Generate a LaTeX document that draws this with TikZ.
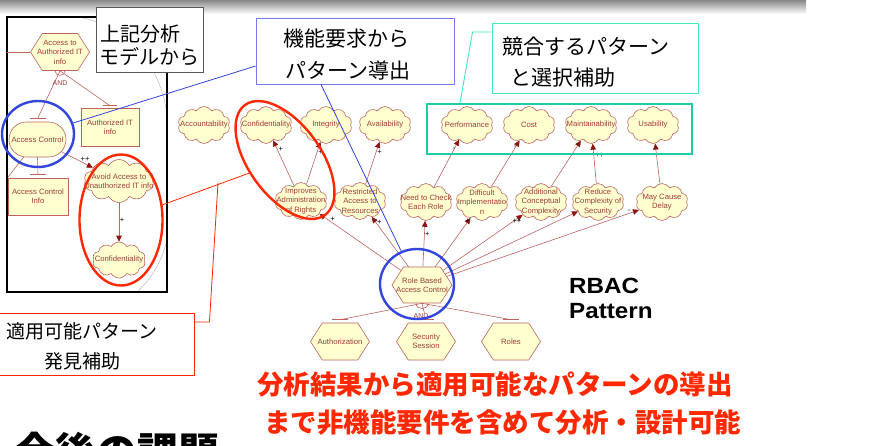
\documentclass[tikz,border=0pt]{standalone}
\usepackage{graphicx}
\usepackage{fontspec}
\setmainfont{Liberation Sans}
\newfontfamily\jp{Noto Sans CJK JP}
\usetikzlibrary{shapes.symbols,shapes.misc,shapes.geometric,arrows.meta}
\definecolor{cream}{RGB}{255,255,208}
\definecolor{ln}{RGB}{190,100,95}
\definecolor{tx}{RGB}{160,60,55}
\definecolor{ah}{RGB}{140,20,15}
\definecolor{hlblue}{RGB}{50,70,220}
\definecolor{cbblue}{RGB}{120,120,240}
\definecolor{hlred}{RGB}{255,40,0}
\definecolor{tealc}{RGB}{30,205,165}
\definecolor{tealL}{RGB}{70,230,190}
\begin{document}
\begin{tikzpicture}[x=1pt,y=-1pt,
  cl/.style={cloud, cloud puffs=10, cloud puff arc=120, aspect=1.4, cloud ignores aspect, draw=ln, fill=cream, line width=0.6pt, inner sep=0pt, minimum width=52pt, minimum height=37pt},
  ct/.style={text=tx, font=\fontsize{7.7}{9.4}\selectfont, align=center, inner sep=0pt},
  hexa/.style={signal, signal to=east and west, signal pointer angle=115, draw=ln, fill=cream, line width=0.6pt, inner sep=0pt, minimum width=59pt, minimum height=37pt},
  gbox/.style={rectangle, draw=ln, fill=cream, line width=0.6pt, inner sep=0pt},
  stad/.style={rounded rectangle, draw=ln, fill=cream, line width=0.6pt, inner sep=0pt},
  lk/.style={draw=ln, line width=0.6pt},
  arr/.style={lk, -{Triangle[length=6pt,width=5.5pt,color=ah]}},
  lbl/.style={font=\fontsize{7.5}{7.5}\selectfont, inner sep=0.5pt, text=black},
  hlb/.style={ellipse, draw=hlblue, line width=2.4pt, inner sep=0pt},
  hlr/.style={ellipse, draw=hlred, line width=2.4pt, inner sep=0pt},
  call/.style={rectangle, fill=white, inner sep=0pt},
  jt/.style={font=\jp\fontsize{21}{21}\selectfont, inner sep=0pt, anchor=west},
]
\useasboundingbox (0,0) rectangle (869,445);
\clip (0,0) rectangle (869,445);
\fill[white] (0,0) rectangle (869,445);
\shade[top color=black!50, bottom color=white] (0,-1) rectangle (806,14);

% faint arc behind the left frame
\draw[gray!45, line width=0.6pt] (83,18) .. controls (130,28) and (158,65) .. (166,108);
\draw[gray!45, line width=0.6pt] (168,236) .. controls (162,262) and (152,278) .. (137,292);
% left frame
\draw[line width=2pt] (7,17) rectangle (167,292);

% ---- left model
\node[hexa, label={[ct]center:Access to\\Authorized IT\\info}] (hexA) at (60,52) {};
\coordinate (hxl) at (7,52);
\draw[lk] (hxl) -- (hexA.west);
\node[stad, minimum width=57pt, minimum height=35pt, label={[ct]center:Access Control}] (acctrl) at (37.5,139.5) {};
\node[gbox, minimum width=58pt, minimum height=38pt, label={[ct]center:Authorized IT\\info}] (authit) at (110,127) {};
\node[gbox, minimum width=60pt, minimum height=37pt, label={[ct]center:Access Control\\Info}] (acinfo) at (38,196.5) {};
\node[cl, minimum width=70pt, minimum height=43pt, label={[ct]center:Avoid Access to\\Unauthorized IT info}] (avoid) at (119,181) {};
\node[cl, minimum width=53pt, minimum height=36pt, label={[ct]center:Confidentiality}] (conf0) at (119,260) {};

\draw[lk] ([xshift=-5pt]hexA.south) .. controls +(0,6) and +(0,6) .. ([xshift=5pt]hexA.south);
\node[ct, font=\fontsize{7}{7}\selectfont] (and1) at (60,83) {AND};
\draw[lk] (hexA.south) -- ([yshift=3pt]acctrl.north);
\draw[lk] ([xshift=-8pt,yshift=3pt]acctrl.north) -- ([xshift=8pt,yshift=3pt]acctrl.north);
\draw[lk] (hexA.south) -- ([yshift=2pt]authit.north);
\draw[lk] ([xshift=-7pt,yshift=2pt]authit.north) -- ([xshift=7pt,yshift=2pt]authit.north);
\draw[lk] (acctrl.south) -- ([yshift=3pt]acinfo.north);
\draw[lk] ([xshift=-8pt,yshift=3pt]acinfo.north) -- ([xshift=8pt,yshift=3pt]acinfo.north);
\coordinate (acx) at (8,177);
\draw[lk] (acctrl) -- (acx);
\draw[arr] (acctrl) -- (avoid) node[lbl, pos=0.75, above=1pt] {++};
\draw[arr] (avoid) -- (conf0) node[lbl, pos=0.45, right=0pt] {+};

% ---- softgoals
\node[cl, label={[ct]center:Accountability}] (acc) at (204,125) {};
\node[cl, label={[ct]center:Confidentiality}] (conf) at (266,125) {};
\node[cl, label={[ct]center:Integrity}] (integ) at (326,125) {};
\node[cl, label={[ct]center:Availability}] (avail) at (385,125) {};
\node[cl, label={[ct]center:Performance}] (perf) at (467,125) {};
\node[cl, label={[ct]center:Cost}] (cost) at (529,125) {};
\node[cl, label={[ct]center:Maintainability}] (maint) at (591,125) {};
\node[cl, label={[ct]center:Usability}] (usab) at (653,125) {};

\node[cl, label={[ct]center:Improves\\Administration\\of Rights}] (impr) at (301,201) {};
\node[cl, label={[ct]center:Restricted\\Access to\\Resources}] (restr) at (360,201) {};
\node[cl, label={[ct]center:Need to Check\\Each Role}] (need) at (426,202) {};
\node[cl, label={[ct]center:Difficult\\Implementatio\\n}] (diff) at (482,202) {};
\node[cl, label={[ct]center:Additional\\Conceptual\\Complexity}] (addl) at (541,202) {};
\node[cl, label={[ct]center:Reduce\\Complexity of\\Security}] (reduce) at (598,202) {};
\node[cl, label={[ct]center:May Cause\\Delay}] (delay) at (662,202) {};

% ---- RBAC
\node[hexa, minimum width=60pt, minimum height=36pt, label={[ct]center:Role Based\\Access Control}] (rbac) at (422,285) {};
\node[hexa, label={[ct]center:Authorization}] (authz) at (340,341.5) {};
\node[hexa, label={[ct]center:Security\\Session}] (sess) at (426,341.5) {};
\node[hexa, label={[ct]center:Roles}] (roles) at (511,341.5) {};

\draw[lk] ([xshift=-6pt]rbac.south) .. controls +(0,7) and +(0,7) .. ([xshift=6pt]rbac.south);
\draw[lk] (rbac.south) -- ([yshift=3pt]authz.north);
\draw[lk] ([xshift=-8pt,yshift=3pt]authz.north) -- ([xshift=8pt,yshift=3pt]authz.north);
\draw[lk] (rbac.south) -- ([yshift=3pt]sess.north);
\draw[lk] ([xshift=-8pt,yshift=3pt]sess.north) -- ([xshift=8pt,yshift=3pt]sess.north);
\draw[lk] (rbac.south) -- ([yshift=3pt]roles.north);
\draw[lk] ([xshift=-8pt,yshift=3pt]roles.north) -- ([xshift=8pt,yshift=3pt]roles.north);
\node[ct, font=\fontsize{7}{7}\selectfont, fill=white, inner sep=0.5pt] (and2) at (421,316) {AND};

\draw[arr] (rbac) -- (impr) node[lbl, pos=0.9, right=2pt] {+};
\draw[arr] (rbac) -- (restr) node[lbl, pos=0.9, right=1pt] {+};
\draw[arr] (rbac) -- (need) node[lbl, pos=0.7, right=0pt] {+};
\draw[arr] (rbac) -- (diff) node[lbl, pos=0.92] {+};
\draw[arr] (rbac) -- (addl) node[lbl, pos=0.93, below=0pt] {++};
\draw[arr] (rbac) -- (reduce);
\draw[arr] (rbac) -- (delay) node[lbl, pos=0.95, above=0pt] {-};

\draw[arr] (impr) -- (conf) node[lbl, pos=0.8, right=0.5pt] {+};
\draw[arr] (impr) -- (integ) node[lbl, pos=0.75, right=0.5pt] {+};
\draw[arr] (restr) -- (avail) node[lbl, pos=0.75, right=0.5pt] {+};
\draw[arr] (need) -- (perf) node[lbl, pos=0.8] {-};
\draw[arr] (diff) -- (cost) node[lbl, pos=0.85] {-};
\draw[arr] (addl) -- (maint) node[lbl, pos=0.9] {-};
\draw[arr] (reduce) -- (maint) node[lbl, pos=0.7, right=0.5pt] {++};
\draw[arr] (delay) -- (usab) node[lbl, pos=0.7] {-};

% ---- frames and highlights
\node[draw=tealc, line width=2.4pt, minimum width=265pt, minimum height=50pt, inner sep=0pt] (gframe) at (559.5,129) {};
\node[hlb, minimum width=72pt, minimum height=66pt] (blueA) at (38,134) {};
\node[hlb, minimum width=74pt, minimum height=70pt] (blueB) at (417,284) {};
\node[hlr, minimum width=83pt, minimum height=131pt] (redA) at (121,220) {};
\node[hlr, minimum width=136pt, minimum height=72pt, rotate=-54] (redB) at (285,160) {};
\draw[hlred, line width=0.8pt] (redA) -- (redB);
\coordinate (rj) at (218,183);

% ---- callouts
\node[call, draw=black!65, line width=1pt, minimum width=107pt, minimum height=65pt] (cb1) at (149.5,39.5) {};
\node[jt, font=\jp\fontsize{20}{20}\selectfont] (cb1a) at (100,34) {上記分析};
\node[jt, font=\jp\fontsize{20}{20}\selectfont] (cb1b) at (99,57) {モデルから};

\node[call, draw=cbblue, line width=0.9pt, minimum width=198pt, minimum height=66pt] (bcall) at (355,51) {};
\node[jt] (bc1) at (283,39) {機能要求から};
\node[jt] (bc2) at (285,70) {パターン導出};

\node[call, draw=tealL, line width=0.9pt, minimum width=206pt, minimum height=70pt] (gcall) at (595,58) {};
\node[jt] (gc1) at (502,47) {競合するパターン};
\node[jt] (gc2) at (510,77.5) {と選択補助};

\node[call, draw=hlred, line width=0.9pt, minimum width=197pt, minimum height=62pt] (rcall) at (95.5,344) {};
\node[jt, font=\jp\fontsize{19}{19}\selectfont] (rc1) at (6,331) {適用可能パターン};
\node[jt, font=\jp\fontsize{19}{19}\selectfont] (rc2) at (44,361) {発見補助};

\draw[hlred, line width=0.8pt] ([yshift=22pt]rcall.east) -- ++(15,0) -- (rj);
\draw[tealL, line width=0.9pt] ([yshift=26pt]gcall.west) -- ++(-19,0) -- ([xshift=-99.5pt]gframe.north);
\draw[hlblue, line width=0.8pt] (blueA) -- ([yshift=-15pt]bcall.west);
\draw[hlblue, line width=0.8pt] ([xshift=-34pt]bcall.south) -- (blueB);

% ---- texts
\node[font=\bfseries\fontsize{22}{22}\selectfont, anchor=base west, inner sep=0pt] (rp1) at (569,293) {\scalebox{1.1}[1]{RBAC}};
\node[font=\bfseries\fontsize{22}{22}\selectfont, anchor=base west, inner sep=0pt] (rp2) at (569,318) {\scalebox{1.1}[1]{Pattern}};

\node[font=\jp\bfseries\fontsize{26.5}{26.5}\selectfont, text=hlred, anchor=west, inner sep=0pt] (bt1) at (257,384) {分析結果から適用可能なパターンの導出};
\node[font=\jp\bfseries\fontsize{26.5}{26.5}\selectfont, text=hlred, anchor=west, inner sep=0pt] (bt2) at (264,422) {まで非機能要件を含めて分析・設計可能};
\node[font=\jp\bfseries\fontsize{41}{41}\selectfont, anchor=base west, inner sep=0pt] (kadai) at (14,467) {今後の課題};
\end{tikzpicture}
\end{document}
